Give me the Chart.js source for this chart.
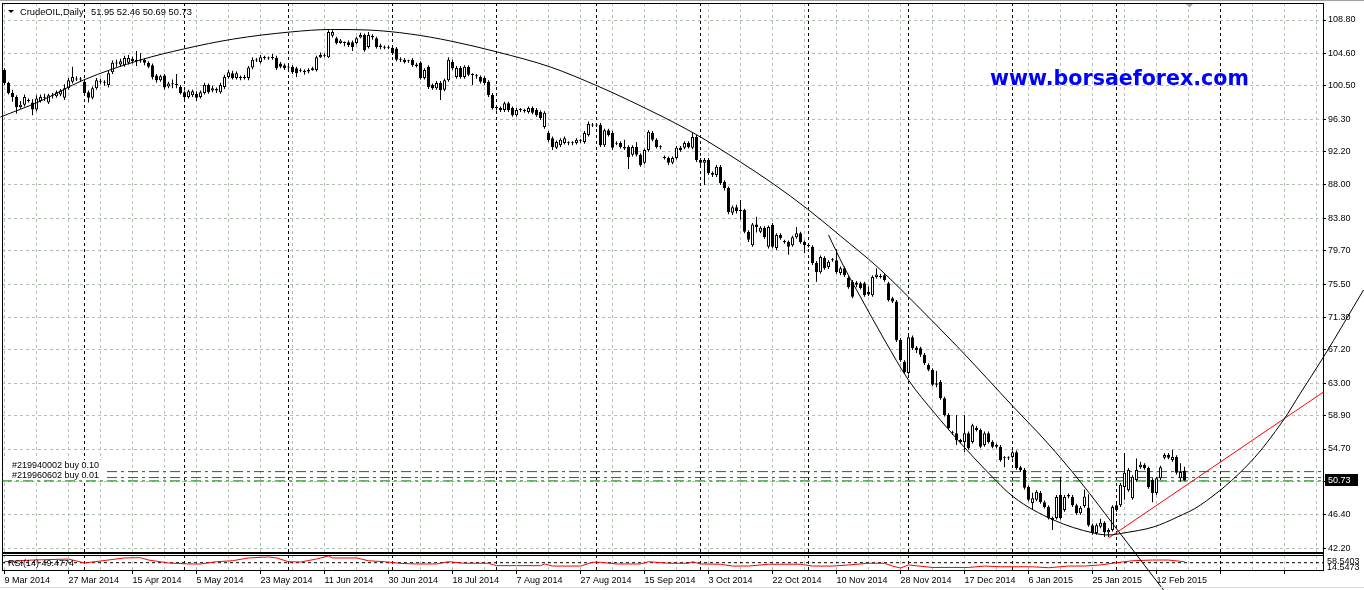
<!DOCTYPE html>
<html><head><meta charset="utf-8">
<script src="https://cdn.jsdelivr.net/npm/chart.js@4.4.1/dist/chart.umd.min.js"></script>
<style>html,body{margin:0;padding:0;background:#fff;overflow:hidden}canvas{display:block}</style>
</head><body><canvas id="c" width="1364" height="590"></canvas>
<script>
const symbolTitle = 'CrudeOIL,Daily';
const lastQuote = '51.95 52.46 50.69 50.73';
const currentPrice = 50.73;
const watermark = 'www.borsaeforex.com';

const opens = [102.5,100.85,99.6,99.1,97.8,98.1,98.7,98.4,97.5,98.6,
99.1,98.4,99.3,99.2,99.4,99.0,100.2,101.0,101.4,101.3,
101.0,99.7,99.0,100.2,101.1,101.0,100.6,102.2,103.4,103.2,
103.1,103.4,103.9,103.6,103.8,103.8,103.4,103.1,101.8,101.2,
101.8,100.4,100.8,100.7,100.35,99.7,99.1,99.3,99.5,99.1,
99.6,100.6,99.9,100.1,99.7,100.35,101.6,102.1,101.5,101.6,
101.5,101.5,102.8,103.8,103.5,104.1,104.0,104.0,104.0,103.3,
103.1,102.8,102.9,102.7,102.5,102.4,102.3,102.5,102.5,104.1,
104.4,104.1,106.8,106.5,105.9,106.0,106.0,106.0,105.9,106.6,
106.9,105.4,106.8,106.5,105.6,105.4,105.3,105.3,105.2,103.9,
103.8,103.6,103.8,103.2,103.4,101.5,102.9,100.6,100.2,100.85,
100.0,101.2,103.5,101.6,102.75,101.6,102.9,101.9,101.8,101.6,
101.5,101.0,99.35,97.8,97.7,97.45,98.3,97.7,96.8,97.45,
97.45,97.2,97.7,97.45,97.2,95.3,94.55,93.9,92.7,93.0,
93.3,93.3,93.25,93.3,93.6,93.4,94.3,95.6,95.5,95.6,
93.0,94.9,94.55,93.3,93.3,92.8,92.8,91.8,92.8,91.8,
90.8,92.4,94.55,93.7,92.8,91.5,91.4,90.8,91.4,92.7,
92.7,93.3,92.7,94.05,91.15,90.8,91.15,89.5,89.25,90.3,
88.4,87.6,84.5,85.2,84.7,84.85,82.1,80.4,83.0,82.1,
82.6,80.2,82.95,80.05,81.7,80.9,80.8,80.4,81.4,81.9,
80.8,80.4,80.2,78.15,77.0,78.8,77.65,78.5,78.5,76.9,
77.5,76.3,75.8,75.7,75.6,75.6,74.5,74.1,76.4,76.5,
76.6,75.6,73.7,73.3,68.45,65.7,64.3,68.8,67.5,67.4,
66.6,65.3,64.7,62.8,63.15,61.1,59.0,56.8,56.7,55.85,
55.6,56.7,55.6,57.35,57.1,55.2,56.7,55.6,55.2,55.0,
53.6,53.55,53.7,54.3,52.4,52.05,49.9,47.9,48.3,49.15,
48.0,47.4,45.75,46.0,48.9,47.0,48.7,48.65,47.6,46.6,
47.5,47.3,45.1,44.1,44.9,45.4,44.2,44.5,47.6,47.6,
49.9,49.5,48.5,50.8,52.4,52.7,52.3,50.8,49.15,51.0,
53.6,53.95,53.3,53.7,51.0,51.95];

const highs = [102.7,101.0,100.0,99.3,98.6,99.4,98.9,98.8,99.3,99.4,
99.5,99.5,99.6,99.9,100.1,100.7,101.5,102.9,101.7,101.6,
101.3,99.9,100.4,101.5,101.4,101.2,102.4,103.7,103.8,103.9,
104.3,104.4,104.2,104.9,104.6,104.0,103.6,103.3,102.0,101.9,
102.0,101.0,101.3,102.0,100.6,99.9,100.0,100.0,99.8,99.9,
100.9,100.8,100.5,100.3,100.9,101.9,102.5,102.4,102.3,101.8,
101.9,103.0,104.1,104.0,104.4,104.3,104.2,104.5,104.3,103.5,
103.3,103.1,103.1,102.9,102.7,102.6,102.7,102.9,104.3,104.7,
104.6,107.5,107.5,106.7,106.4,106.1,106.2,106.2,106.7,107.2,
107.1,107.3,107.0,106.7,105.8,105.6,105.6,105.5,105.4,104.1,
104.0,103.8,104.0,103.4,103.6,102.7,103.1,100.8,101.1,101.1,
101.4,104.1,103.8,103.0,103.0,103.1,103.1,102.1,102.0,101.8,
101.7,101.2,99.6,98.0,97.9,98.5,98.5,97.9,97.7,97.7,
97.6,97.9,97.9,97.7,97.4,97.3,94.8,94.1,93.6,93.9,
94.1,93.5,93.5,93.9,93.8,94.8,96.0,95.8,95.8,95.8,
95.1,95.1,94.8,93.5,93.5,93.7,93.0,93.0,93.4,92.0,
92.6,94.9,94.8,93.9,93.0,91.7,91.6,91.6,92.9,92.9,
93.5,93.5,94.6,94.3,91.4,91.4,91.4,89.7,90.5,90.5,
88.6,87.8,85.4,85.5,86.1,85.0,82.3,83.2,84.0,82.8,
82.8,82.9,83.2,81.9,81.9,81.1,81.0,81.6,82.7,82.1,
81.0,80.6,80.4,78.4,79.1,79.0,78.5,78.8,79.9,77.7,
77.7,76.5,76.0,75.9,75.8,75.8,75.2,76.6,77.5,76.8,
76.9,75.8,73.9,73.5,68.7,65.9,69.0,69.0,67.7,67.6,
66.8,65.5,64.9,64.55,63.4,61.3,59.2,57.0,59.0,56.0,
59.0,56.9,57.9,57.6,57.3,56.9,56.9,55.8,55.4,55.2,
53.8,53.8,54.5,54.5,52.6,52.3,50.1,49.2,49.5,49.4,
48.2,47.6,46.2,48.9,51.2,48.9,49.1,48.9,47.8,47.5,
49.6,49.0,45.3,45.3,45.9,45.6,44.7,47.6,47.8,50.4,
54.2,52.3,51.4,53.5,53.1,52.9,52.5,51.0,51.2,52.6,
54.2,54.2,54.6,53.9,52.9,52.46];

const lows = [100.6,99.4,98.5,97.0,97.6,97.9,98.4,96.8,97.3,98.4,
98.6,98.2,98.9,99.0,99.2,98.7,100.0,100.8,101.1,101.0,
99.3,98.4,98.8,100.0,100.7,100.5,100.3,102.0,102.9,102.9,
102.9,103.2,103.3,103.0,103.4,103.1,102.7,101.3,100.9,101.0,
100.0,100.2,100.2,100.2,99.4,98.7,98.9,99.1,98.6,98.9,
99.4,99.5,99.7,99.6,99.5,100.1,101.4,101.3,101.3,101.2,
101.3,101.2,102.6,103.5,103.3,103.8,103.8,103.8,102.5,102.7,
102.5,102.6,102.0,101.6,102.2,101.9,102.1,102.4,102.3,104.0,
104.1,104.0,106.6,105.7,105.8,105.5,105.4,104.9,105.7,106.5,
104.8,105.2,106.3,105.2,105.1,105.1,105.1,104.4,103.6,103.5,
103.3,103.4,102.9,102.8,101.3,101.3,100.1,100.0,100.0,98.7,
99.8,101.0,102.5,101.4,101.4,101.4,101.7,100.6,101.4,100.8,
100.6,99.1,97.5,97.4,97.2,97.2,97.2,96.6,96.6,97.2,
97.1,97.0,96.9,96.6,96.2,95.1,93.4,92.4,92.5,92.8,
93.1,93.0,93.0,93.1,93.3,93.2,94.1,95.3,95.3,92.8,
92.8,94.1,92.4,93.0,92.6,92.4,90.0,91.6,91.6,90.3,
90.6,92.2,93.5,92.6,92.5,91.2,90.5,90.6,91.2,92.2,
92.5,92.6,92.5,90.9,90.5,88.0,89.3,89.0,89.0,88.0,
87.3,84.3,84.2,84.4,83.6,81.9,80.8,80.2,82.0,81.9,
81.2,80.0,80.0,79.8,81.1,80.6,79.2,80.2,81.2,80.6,
79.4,80.1,77.9,75.8,76.8,77.3,77.4,78.3,76.8,76.6,
76.4,74.9,73.7,75.1,74.8,73.9,74.0,73.9,76.2,76.2,
75.8,73.3,73.1,68.2,65.7,64.2,64.1,67.2,66.8,66.3,
65.3,64.5,62.6,62.5,60.9,58.8,57.1,56.5,55.2,55.4,
54.3,54.6,55.4,56.9,54.8,55.0,55.4,54.8,54.8,53.1,
52.4,53.3,53.5,52.1,51.8,49.6,48.1,47.0,48.1,47.8,
47.2,45.8,44.5,45.8,45.8,46.8,48.5,47.4,46.4,46.4,
47.3,44.9,43.9,43.9,44.7,43.6,43.6,44.3,46.8,47.4,
48.3,49.3,48.3,50.6,52.2,52.1,49.7,48.0,48.9,50.8,
53.4,53.4,53.1,51.5,50.6,50.69];

const closes = [100.85,99.6,99.1,97.8,98.1,99.1,98.6,97.5,98.9,99.1,
99.0,99.3,99.2,99.7,99.9,100.2,101.2,101.6,101.3,101.35,
99.6,99.0,100.2,101.2,101.0,100.9,102.1,103.4,103.3,103.6,
104.0,104.0,103.6,103.8,103.7,103.4,102.9,101.6,101.2,101.7,
100.3,100.8,100.7,100.6,99.6,99.1,99.8,99.8,99.0,99.7,
100.6,99.7,100.2,99.9,100.6,101.6,102.2,101.5,102.1,101.5,
101.6,102.8,103.8,103.7,104.1,104.0,103.95,104.1,102.7,102.9,
102.7,102.9,102.2,102.1,102.4,102.2,102.5,102.7,104.1,104.4,
104.3,107.3,107.3,105.9,106.2,105.9,105.65,105.4,106.5,106.9,
105.0,106.9,106.6,105.4,105.4,105.3,105.4,104.6,103.8,103.8,
103.5,103.65,103.1,103.0,101.5,102.5,100.35,100.2,100.85,99.97,
101.2,103.8,102.7,102.75,101.6,102.9,101.9,101.85,101.7,101.0,
100.85,99.35,97.7,97.7,97.45,98.3,97.45,96.8,97.45,97.5,
97.3,97.7,97.1,96.8,96.45,97.1,93.67,92.8,93.4,93.7,
93.9,93.25,93.3,93.7,93.5,94.55,95.7,95.5,95.6,93.0,
94.9,94.3,92.7,93.2,92.8,92.6,91.5,92.8,91.8,90.5,
92.4,94.7,93.7,92.8,92.75,91.4,90.8,91.4,92.7,92.4,
93.3,92.8,94.05,91.15,90.8,91.15,89.5,89.3,90.3,88.25,
87.6,84.6,85.2,84.7,84.85,82.1,81.1,83.0,82.7,82.6,
81.4,82.7,80.2,81.7,81.3,80.8,80.2,81.4,81.9,80.8,
80.4,80.3,78.15,77.0,78.9,77.5,78.3,78.6,77.0,77.5,
76.6,75.1,73.9,75.4,75.0,74.1,74.2,76.4,76.7,76.4,
76.0,73.5,73.3,68.4,65.9,64.4,68.8,67.4,67.2,66.6,
65.5,64.7,62.8,63.0,61.1,59.0,57.35,56.7,55.8,55.6,
56.7,54.8,57.7,57.1,55.0,56.7,55.6,55.0,55.0,53.3,
53.55,53.6,54.3,52.3,52.05,49.8,48.3,48.5,49.3,48.0,
47.4,46.0,46.0,48.65,46.0,48.65,48.9,47.6,46.6,47.3,
48.7,45.1,44.1,45.1,45.4,44.2,44.5,47.4,47.0,50.2,
51.7,52.05,51.2,52.05,52.7,52.3,49.9,49.15,51.0,52.4,
53.95,53.6,53.7,51.7,51.8,50.73];

const dateLabels = ['9 Mar 2014','27 Mar 2014','15 Apr 2014','5 May 2014','23 May 2014','11 Jun 2014','30 Jun 2014','18 Jul 2014','7 Aug 2014','27 Aug 2014','15 Sep 2014','3 Oct 2014','22 Oct 2014','10 Nov 2014','28 Nov 2014','17 Dec 2014','6 Jan 2015','25 Jan 2015','12 Feb 2015'];
const barsPerLabel = 16;
const barsPerGrid = 8;
const priceTicks = [108.80,104.60,100.50,96.30,92.20,88.00,83.80,79.70,75.50,71.30,67.20,63.00,58.90,54.70,50.55,46.40,42.20];
const monthStartBars = [20,45,71,97,123,148,174,201,226,252,278,304];

// hand-drawn objects: [bar, price]
const arcTop = [[-1,96.57],[9,98.58],[19.75,101.23],[34,103.76],[44.75,105.14],[57.25,106.40],[71.5,107.29],[81.5,107.60],[90.75,107.54],[101.5,107.03],[111.5,106.15],[123.25,104.76],[136.5,102.87],[148.25,100.48],[156.5,98.58],[172.25,94.55],[184,90.89],[192.25,88.12],[200.75,84.96],[209,81.56],[218.25,77.65],[226,73.87],[239,67.19],[252.25,60.00],[260.75,55.46],[269,50.54],[278.25,44.49],[289.75,36.92]];
const arcBottom = [[206,81.69],[209.75,77.78],[214,73.87],[220,68.45],[226,63.40],[232.5,59.24],[239,55.46],[245.75,51.80],[252.25,48.65],[262.25,45.75],[272.25,44.11],[276,43.86],[279.75,44.11],[287.25,44.87],[293.25,46.13],[299,47.64],[311.5,53.06],[319.75,58.36],[324,61.76],[329.75,66.30],[339.75,74.75]];
const trendLine = [[276,43.48],[329.75,61.89]];
const orderPrices = [51.85, 51.10, 50.68];
const orderLabels = ['#219940002 buy 0.10', '#219960602 buy 0.01'];

// RSI(14) read from the sub-window: [bar, value]
const rsiPoints = [[0,52],[7,64],[16,71],[20,43],[24,57],[30,79],[34,81],[36,64],[41,43],[46,36],[49,36],[53,52],[57,59],[61,79],[66,86],[68,79],[71,52],[74,50],[78,71],[81,93],[82,79],[88,79],[91,59],[95,52],[99,40],[103,36],[108,36],[111,52],[115,41],[121,41],[123,24],[128,24],[134,24],[135,36],[137,21],[144,21],[147,48],[149,48],[153,36],[159,36],[161,52],[166,41],[171,41],[172,52],[174,36],[179,34],[182,21],[186,21],[191,34],[199,34],[202,21],[207,21],[211,29],[216,41],[220,41],[222,21],[224,7],[226,29],[232,11],[241,11],[245,21],[249,16],[257,16],[261,9],[266,21],[270,21],[274,29],[278,45],[282,59],[287,64],[291,64],[295,52]];
const rsiLevel = 45;
const rsiTitle = 'RSI(14) 49.4774';
const rsiScaleLabels = [['58.5403', 58.54], ['14.5473', 14.55]];

// ---------- chart ----------
Chart.defaults.font.family = "'Liberation Sans', Arial, sans-serif";
Chart.defaults.font.size = 9;
Chart.defaults.color = '#000';

const X_MIN = -0.625, X_MAX = 329.625;
const GRID = '#b2c2b2';
const toXY = pts => pts.map(([x, y]) => ({x, y}));
const bodyData = closes.map((c, i) => ({x: i, y: [opens[i], c]}));
const wickData = closes.map((c, i) => ({x: i, y: [lows[i], highs[i]]}));
const bodyColors = closes.map((c, i) => c >= opens[i] ? '#ffffff' : '#000000');
const xTicks = [];
for (let b = 0; b <= 328; b += barsPerGrid) xTicks.push(b);

const lineBase = {type: 'line', pointRadius: 0, borderWidth: 1, tension: 0, fill: false};

const overlay = {
  id: 'overlay',
  beforeDatasetsDraw(chart) {
    const {ctx, chartArea: a, scales: {x}} = chart;
    ctx.save();
    ctx.fillStyle = '#fff';
    ctx.fillRect(a.left + 1, 554, a.right - a.left - 1, 1);
    ctx.strokeStyle = '#000'; ctx.lineWidth = 1; ctx.setLineDash([3, 3]);
    monthStartBars.forEach(b => {
      const px = x.getPixelForValue(b);
      if (px < a.left || px > a.right) return;
      ctx.beginPath(); ctx.moveTo(px, a.top); ctx.lineTo(px, a.bottom); ctx.stroke();
    });
    ctx.setLineDash([]);
    ctx.beginPath();
    ctx.moveTo(a.left + 0.5, a.top); ctx.lineTo(a.left + 0.5, a.bottom);
    ctx.moveTo(a.left, a.top + 0.5); ctx.lineTo(a.right, a.top + 0.5);
    ctx.moveTo(a.left, 555.5); ctx.lineTo(a.right, 555.5);
    ctx.stroke();
    ctx.lineWidth = 2;
    ctx.beginPath(); ctx.moveTo(a.left, 553); ctx.lineTo(a.right, 553); ctx.stroke();
    ctx.restore();
  },
  afterDraw(chart) {
    const {ctx, chartArea: a, scales: {y, yr}} = chart;
    ctx.save();
    ctx.fillStyle = '#a0a0a0'; ctx.fillRect(0, 0, 1364, 1);
    ctx.fillStyle = '#d8d8d8'; ctx.fillRect(0, 587, 1364, 1);
    ctx.fillStyle = '#000';
    ctx.beginPath(); ctx.moveTo(8, 10); ctx.lineTo(14, 10); ctx.lineTo(11, 13); ctx.closePath(); ctx.fill();
    ctx.font = "9.3px 'Liberation Sans', Arial, sans-serif";
    ctx.textBaseline = 'middle'; ctx.textAlign = 'left';
    ctx.fillText(symbolTitle, 20, 12.5);
    ctx.fillText(lastQuote, 91, 12.5);
    ctx.fillStyle = '#a8a8a8';
    ctx.beginPath(); ctx.moveTo(1186, 4); ctx.lineTo(1193, 4); ctx.lineTo(1189.5, 7.5); ctx.closePath(); ctx.fill();
    ctx.fillStyle = '#0000ff';
    ctx.font = "bold 20.6px 'DejaVu Sans', sans-serif";
    ctx.textBaseline = 'alphabetic';
    ctx.fillText(watermark, 990, 85);
    ctx.font = "9px 'Liberation Sans', Arial, sans-serif";
    ctx.textBaseline = 'middle';
    orderLabels.forEach((t, i) => {
      const top = 460 + i * 10;
      ctx.fillStyle = '#fff'; ctx.fillRect(a.left + 1, top, 102, 10);
      ctx.fillStyle = '#000'; ctx.fillText(t, 12, top + 5.5);
    });
    ctx.fillText(rsiTitle, 8, 563.5);
    rsiScaleLabels.forEach(([t, v]) => ctx.fillText(t, 1327, yr.getPixelForValue(v) + 0.5));
    const yc = Math.round(y.getPixelForValue(currentPrice));
    ctx.fillStyle = '#000'; ctx.fillRect(1325, yc - 6, 33, 12);
    ctx.fillStyle = '#fff'; ctx.fillText(currentPrice.toFixed(2), 1328, yc + 0.5);
    ctx.restore();
  }
};

new Chart(document.getElementById('c'), {
  type: 'bar',
  data: {
    datasets: [
      {type: 'bar', data: wickData, backgroundColor: '#000', borderWidth: 0, barThickness: 1, grouped: false, inflateAmount: 0, order: 3},
      {type: 'bar', data: bodyData, backgroundColor: bodyColors, borderColor: '#000', borderWidth: 1, borderSkipped: false, barThickness: 3, minBarLength: 1, grouped: false, inflateAmount: 0, order: 2},
      ...orderPrices.map(p => Object.assign({}, lineBase, {data: [{x: X_MIN, y: p}, {x: X_MAX, y: p}], borderColor: '#008000', borderDash: [10, 4, 3, 4], order: 4})),
      Object.assign({}, lineBase, {data: toXY(arcTop), borderColor: '#000', cubicInterpolationMode: 'monotone', clip: false, order: 1}),
      Object.assign({}, lineBase, {data: toXY(arcBottom), borderColor: '#000', cubicInterpolationMode: 'monotone', clip: false, order: 1}),
      Object.assign({}, lineBase, {data: toXY(trendLine), borderColor: '#ff0000', order: 1}),
      Object.assign({}, lineBase, {yAxisID: 'yr', data: toXY(rsiPoints), borderColor: '#ff0000', order: 1}),
      Object.assign({}, lineBase, {yAxisID: 'yr', data: [{x: X_MIN, y: rsiLevel}, {x: X_MAX, y: rsiLevel}], borderColor: '#000', borderDash: [3, 3], order: 1})
    ]
  },
  options: {
    responsive: false, animation: false, events: [],
    layout: {padding: {left: 2, top: 3, right: 0, bottom: 0}},
    plugins: {legend: {display: false}, tooltip: {enabled: false}},
    scales: {
      x: {
        type: 'linear', position: 'bottom', bounds: 'data', offset: false,
        afterBuildTicks: s => { s.ticks = xTicks.map(v => ({value: v})); s.min = X_MIN; s.max = X_MAX; },
        afterFit: s => { s.height = 20; s.paddingLeft = 0; s.paddingRight = 0; },
        ticks: {
          autoSkip: false, maxRotation: 0, minRotation: 0, align: 'start', padding: 1, color: '#000',
          callback: v => (v % barsPerLabel === 0 && dateLabels[v / barsPerLabel]) ? dateLabels[v / barsPerLabel] : ''
        },
        grid: {
          offset: false, color: GRID, lineWidth: 1, drawTicks: true, tickLength: 4,
          tickColor: c => (c.tick && c.tick.value % barsPerLabel === 0) ? '#000' : 'rgba(0,0,0,0)'
        },
        border: {display: true, color: '#000', width: 1, dash: [3, 3]}
      },
      y: {
        type: 'linear', position: 'right', min: 39.443, max: 110.944,
        afterBuildTicks: s => { s.ticks = priceTicks.map(v => ({value: v})); },
        afterFit: s => { s.width = 41; s.paddingTop = 0; s.paddingBottom = 0; },
        ticks: {padding: 2, color: '#000', callback: v => v === 50.55 ? '' : v.toFixed(2)},
        grid: {color: GRID, lineWidth: 1, drawTicks: true, tickLength: 3, tickColor: '#000'},
        border: {display: true, color: '#000', width: 1, dash: [3, 3]}
      },
      yr: {type: 'linear', display: false, min: -7.143, max: 4042.86}
    }
  },
  plugins: [overlay]
});
</script>
</body></html>
